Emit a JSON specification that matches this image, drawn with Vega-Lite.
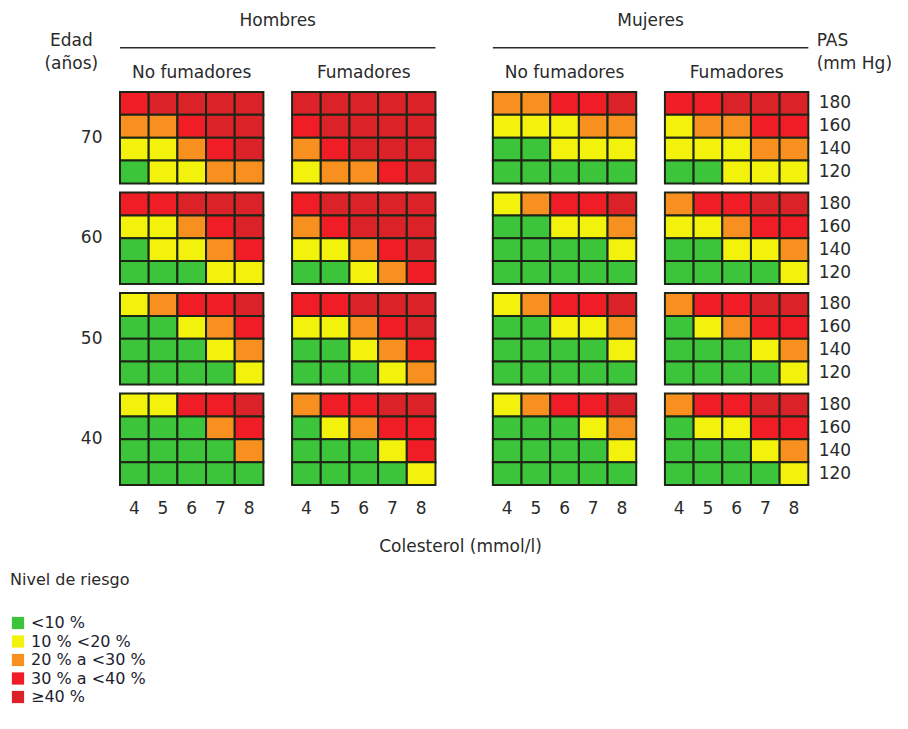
{
  "$schema": "https://vega.github.io/schema/vega-lite/v6.json",
  "width": 717,
  "height": 393,
  "autosize": {"type": "none"},
  "padding": {"left": 120, "top": 92, "right": 71, "bottom": 244},
  "background": "white",
  "config": {"font": "DejaVu Sans", "view": {"stroke": null}, "text": {"color": "#2a2a2a"}},
  "resolve": {"axis": {"x": "independent", "y": "independent"}},
  "data": {"values": [
{"edad":70,"celda":"HN4","pas":180,"nivel":4},{"edad":70,"celda":"HN5","pas":180,"nivel":5},{"edad":70,"celda":"HN6","pas":180,"nivel":5},{"edad":70,"celda":"HN7","pas":180,"nivel":5},{"edad":70,"celda":"HN8","pas":180,"nivel":5},
{"edad":70,"celda":"HN4","pas":160,"nivel":3},{"edad":70,"celda":"HN5","pas":160,"nivel":3},{"edad":70,"celda":"HN6","pas":160,"nivel":4},{"edad":70,"celda":"HN7","pas":160,"nivel":5},{"edad":70,"celda":"HN8","pas":160,"nivel":5},
{"edad":70,"celda":"HN4","pas":140,"nivel":2},{"edad":70,"celda":"HN5","pas":140,"nivel":2},{"edad":70,"celda":"HN6","pas":140,"nivel":3},{"edad":70,"celda":"HN7","pas":140,"nivel":4},{"edad":70,"celda":"HN8","pas":140,"nivel":5},
{"edad":70,"celda":"HN4","pas":120,"nivel":1},{"edad":70,"celda":"HN5","pas":120,"nivel":2},{"edad":70,"celda":"HN6","pas":120,"nivel":2},{"edad":70,"celda":"HN7","pas":120,"nivel":3},{"edad":70,"celda":"HN8","pas":120,"nivel":3},
{"edad":70,"celda":"HF4","pas":180,"nivel":5},{"edad":70,"celda":"HF5","pas":180,"nivel":5},{"edad":70,"celda":"HF6","pas":180,"nivel":5},{"edad":70,"celda":"HF7","pas":180,"nivel":5},{"edad":70,"celda":"HF8","pas":180,"nivel":5},
{"edad":70,"celda":"HF4","pas":160,"nivel":4},{"edad":70,"celda":"HF5","pas":160,"nivel":5},{"edad":70,"celda":"HF6","pas":160,"nivel":5},{"edad":70,"celda":"HF7","pas":160,"nivel":5},{"edad":70,"celda":"HF8","pas":160,"nivel":5},
{"edad":70,"celda":"HF4","pas":140,"nivel":3},{"edad":70,"celda":"HF5","pas":140,"nivel":4},{"edad":70,"celda":"HF6","pas":140,"nivel":5},{"edad":70,"celda":"HF7","pas":140,"nivel":5},{"edad":70,"celda":"HF8","pas":140,"nivel":5},
{"edad":70,"celda":"HF4","pas":120,"nivel":2},{"edad":70,"celda":"HF5","pas":120,"nivel":3},{"edad":70,"celda":"HF6","pas":120,"nivel":3},{"edad":70,"celda":"HF7","pas":120,"nivel":4},{"edad":70,"celda":"HF8","pas":120,"nivel":5},
{"edad":70,"celda":"MN4","pas":180,"nivel":3},{"edad":70,"celda":"MN5","pas":180,"nivel":3},{"edad":70,"celda":"MN6","pas":180,"nivel":4},{"edad":70,"celda":"MN7","pas":180,"nivel":4},{"edad":70,"celda":"MN8","pas":180,"nivel":5},
{"edad":70,"celda":"MN4","pas":160,"nivel":2},{"edad":70,"celda":"MN5","pas":160,"nivel":2},{"edad":70,"celda":"MN6","pas":160,"nivel":2},{"edad":70,"celda":"MN7","pas":160,"nivel":3},{"edad":70,"celda":"MN8","pas":160,"nivel":3},
{"edad":70,"celda":"MN4","pas":140,"nivel":1},{"edad":70,"celda":"MN5","pas":140,"nivel":1},{"edad":70,"celda":"MN6","pas":140,"nivel":2},{"edad":70,"celda":"MN7","pas":140,"nivel":2},{"edad":70,"celda":"MN8","pas":140,"nivel":2},
{"edad":70,"celda":"MN4","pas":120,"nivel":1},{"edad":70,"celda":"MN5","pas":120,"nivel":1},{"edad":70,"celda":"MN6","pas":120,"nivel":1},{"edad":70,"celda":"MN7","pas":120,"nivel":1},{"edad":70,"celda":"MN8","pas":120,"nivel":1},
{"edad":70,"celda":"MF4","pas":180,"nivel":4},{"edad":70,"celda":"MF5","pas":180,"nivel":4},{"edad":70,"celda":"MF6","pas":180,"nivel":5},{"edad":70,"celda":"MF7","pas":180,"nivel":5},{"edad":70,"celda":"MF8","pas":180,"nivel":5},
{"edad":70,"celda":"MF4","pas":160,"nivel":2},{"edad":70,"celda":"MF5","pas":160,"nivel":3},{"edad":70,"celda":"MF6","pas":160,"nivel":3},{"edad":70,"celda":"MF7","pas":160,"nivel":4},{"edad":70,"celda":"MF8","pas":160,"nivel":4},
{"edad":70,"celda":"MF4","pas":140,"nivel":2},{"edad":70,"celda":"MF5","pas":140,"nivel":2},{"edad":70,"celda":"MF6","pas":140,"nivel":2},{"edad":70,"celda":"MF7","pas":140,"nivel":3},{"edad":70,"celda":"MF8","pas":140,"nivel":3},
{"edad":70,"celda":"MF4","pas":120,"nivel":1},{"edad":70,"celda":"MF5","pas":120,"nivel":1},{"edad":70,"celda":"MF6","pas":120,"nivel":2},{"edad":70,"celda":"MF7","pas":120,"nivel":2},{"edad":70,"celda":"MF8","pas":120,"nivel":2},
{"edad":60,"celda":"HN4","pas":180,"nivel":4},{"edad":60,"celda":"HN5","pas":180,"nivel":4},{"edad":60,"celda":"HN6","pas":180,"nivel":5},{"edad":60,"celda":"HN7","pas":180,"nivel":5},{"edad":60,"celda":"HN8","pas":180,"nivel":5},
{"edad":60,"celda":"HN4","pas":160,"nivel":2},{"edad":60,"celda":"HN5","pas":160,"nivel":2},{"edad":60,"celda":"HN6","pas":160,"nivel":3},{"edad":60,"celda":"HN7","pas":160,"nivel":4},{"edad":60,"celda":"HN8","pas":160,"nivel":5},
{"edad":60,"celda":"HN4","pas":140,"nivel":1},{"edad":60,"celda":"HN5","pas":140,"nivel":2},{"edad":60,"celda":"HN6","pas":140,"nivel":2},{"edad":60,"celda":"HN7","pas":140,"nivel":3},{"edad":60,"celda":"HN8","pas":140,"nivel":4},
{"edad":60,"celda":"HN4","pas":120,"nivel":1},{"edad":60,"celda":"HN5","pas":120,"nivel":1},{"edad":60,"celda":"HN6","pas":120,"nivel":1},{"edad":60,"celda":"HN7","pas":120,"nivel":2},{"edad":60,"celda":"HN8","pas":120,"nivel":2},
{"edad":60,"celda":"HF4","pas":180,"nivel":4},{"edad":60,"celda":"HF5","pas":180,"nivel":5},{"edad":60,"celda":"HF6","pas":180,"nivel":5},{"edad":60,"celda":"HF7","pas":180,"nivel":5},{"edad":60,"celda":"HF8","pas":180,"nivel":5},
{"edad":60,"celda":"HF4","pas":160,"nivel":3},{"edad":60,"celda":"HF5","pas":160,"nivel":4},{"edad":60,"celda":"HF6","pas":160,"nivel":5},{"edad":60,"celda":"HF7","pas":160,"nivel":5},{"edad":60,"celda":"HF8","pas":160,"nivel":5},
{"edad":60,"celda":"HF4","pas":140,"nivel":2},{"edad":60,"celda":"HF5","pas":140,"nivel":2},{"edad":60,"celda":"HF6","pas":140,"nivel":3},{"edad":60,"celda":"HF7","pas":140,"nivel":4},{"edad":60,"celda":"HF8","pas":140,"nivel":5},
{"edad":60,"celda":"HF4","pas":120,"nivel":1},{"edad":60,"celda":"HF5","pas":120,"nivel":1},{"edad":60,"celda":"HF6","pas":120,"nivel":2},{"edad":60,"celda":"HF7","pas":120,"nivel":3},{"edad":60,"celda":"HF8","pas":120,"nivel":4},
{"edad":60,"celda":"MN4","pas":180,"nivel":2},{"edad":60,"celda":"MN5","pas":180,"nivel":3},{"edad":60,"celda":"MN6","pas":180,"nivel":4},{"edad":60,"celda":"MN7","pas":180,"nivel":4},{"edad":60,"celda":"MN8","pas":180,"nivel":5},
{"edad":60,"celda":"MN4","pas":160,"nivel":1},{"edad":60,"celda":"MN5","pas":160,"nivel":1},{"edad":60,"celda":"MN6","pas":160,"nivel":2},{"edad":60,"celda":"MN7","pas":160,"nivel":2},{"edad":60,"celda":"MN8","pas":160,"nivel":3},
{"edad":60,"celda":"MN4","pas":140,"nivel":1},{"edad":60,"celda":"MN5","pas":140,"nivel":1},{"edad":60,"celda":"MN6","pas":140,"nivel":1},{"edad":60,"celda":"MN7","pas":140,"nivel":1},{"edad":60,"celda":"MN8","pas":140,"nivel":2},
{"edad":60,"celda":"MN4","pas":120,"nivel":1},{"edad":60,"celda":"MN5","pas":120,"nivel":1},{"edad":60,"celda":"MN6","pas":120,"nivel":1},{"edad":60,"celda":"MN7","pas":120,"nivel":1},{"edad":60,"celda":"MN8","pas":120,"nivel":1},
{"edad":60,"celda":"MF4","pas":180,"nivel":3},{"edad":60,"celda":"MF5","pas":180,"nivel":4},{"edad":60,"celda":"MF6","pas":180,"nivel":4},{"edad":60,"celda":"MF7","pas":180,"nivel":5},{"edad":60,"celda":"MF8","pas":180,"nivel":5},
{"edad":60,"celda":"MF4","pas":160,"nivel":2},{"edad":60,"celda":"MF5","pas":160,"nivel":2},{"edad":60,"celda":"MF6","pas":160,"nivel":3},{"edad":60,"celda":"MF7","pas":160,"nivel":4},{"edad":60,"celda":"MF8","pas":160,"nivel":4},
{"edad":60,"celda":"MF4","pas":140,"nivel":1},{"edad":60,"celda":"MF5","pas":140,"nivel":1},{"edad":60,"celda":"MF6","pas":140,"nivel":2},{"edad":60,"celda":"MF7","pas":140,"nivel":2},{"edad":60,"celda":"MF8","pas":140,"nivel":3},
{"edad":60,"celda":"MF4","pas":120,"nivel":1},{"edad":60,"celda":"MF5","pas":120,"nivel":1},{"edad":60,"celda":"MF6","pas":120,"nivel":1},{"edad":60,"celda":"MF7","pas":120,"nivel":1},{"edad":60,"celda":"MF8","pas":120,"nivel":2},
{"edad":50,"celda":"HN4","pas":180,"nivel":2},{"edad":50,"celda":"HN5","pas":180,"nivel":3},{"edad":50,"celda":"HN6","pas":180,"nivel":4},{"edad":50,"celda":"HN7","pas":180,"nivel":4},{"edad":50,"celda":"HN8","pas":180,"nivel":5},
{"edad":50,"celda":"HN4","pas":160,"nivel":1},{"edad":50,"celda":"HN5","pas":160,"nivel":1},{"edad":50,"celda":"HN6","pas":160,"nivel":2},{"edad":50,"celda":"HN7","pas":160,"nivel":3},{"edad":50,"celda":"HN8","pas":160,"nivel":4},
{"edad":50,"celda":"HN4","pas":140,"nivel":1},{"edad":50,"celda":"HN5","pas":140,"nivel":1},{"edad":50,"celda":"HN6","pas":140,"nivel":1},{"edad":50,"celda":"HN7","pas":140,"nivel":2},{"edad":50,"celda":"HN8","pas":140,"nivel":3},
{"edad":50,"celda":"HN4","pas":120,"nivel":1},{"edad":50,"celda":"HN5","pas":120,"nivel":1},{"edad":50,"celda":"HN6","pas":120,"nivel":1},{"edad":50,"celda":"HN7","pas":120,"nivel":1},{"edad":50,"celda":"HN8","pas":120,"nivel":2},
{"edad":50,"celda":"HF4","pas":180,"nivel":4},{"edad":50,"celda":"HF5","pas":180,"nivel":4},{"edad":50,"celda":"HF6","pas":180,"nivel":5},{"edad":50,"celda":"HF7","pas":180,"nivel":5},{"edad":50,"celda":"HF8","pas":180,"nivel":5},
{"edad":50,"celda":"HF4","pas":160,"nivel":2},{"edad":50,"celda":"HF5","pas":160,"nivel":2},{"edad":50,"celda":"HF6","pas":160,"nivel":3},{"edad":50,"celda":"HF7","pas":160,"nivel":4},{"edad":50,"celda":"HF8","pas":160,"nivel":5},
{"edad":50,"celda":"HF4","pas":140,"nivel":1},{"edad":50,"celda":"HF5","pas":140,"nivel":1},{"edad":50,"celda":"HF6","pas":140,"nivel":2},{"edad":50,"celda":"HF7","pas":140,"nivel":3},{"edad":50,"celda":"HF8","pas":140,"nivel":4},
{"edad":50,"celda":"HF4","pas":120,"nivel":1},{"edad":50,"celda":"HF5","pas":120,"nivel":1},{"edad":50,"celda":"HF6","pas":120,"nivel":1},{"edad":50,"celda":"HF7","pas":120,"nivel":2},{"edad":50,"celda":"HF8","pas":120,"nivel":3},
{"edad":50,"celda":"MN4","pas":180,"nivel":2},{"edad":50,"celda":"MN5","pas":180,"nivel":3},{"edad":50,"celda":"MN6","pas":180,"nivel":4},{"edad":50,"celda":"MN7","pas":180,"nivel":4},{"edad":50,"celda":"MN8","pas":180,"nivel":5},
{"edad":50,"celda":"MN4","pas":160,"nivel":1},{"edad":50,"celda":"MN5","pas":160,"nivel":1},{"edad":50,"celda":"MN6","pas":160,"nivel":2},{"edad":50,"celda":"MN7","pas":160,"nivel":2},{"edad":50,"celda":"MN8","pas":160,"nivel":3},
{"edad":50,"celda":"MN4","pas":140,"nivel":1},{"edad":50,"celda":"MN5","pas":140,"nivel":1},{"edad":50,"celda":"MN6","pas":140,"nivel":1},{"edad":50,"celda":"MN7","pas":140,"nivel":1},{"edad":50,"celda":"MN8","pas":140,"nivel":2},
{"edad":50,"celda":"MN4","pas":120,"nivel":1},{"edad":50,"celda":"MN5","pas":120,"nivel":1},{"edad":50,"celda":"MN6","pas":120,"nivel":1},{"edad":50,"celda":"MN7","pas":120,"nivel":1},{"edad":50,"celda":"MN8","pas":120,"nivel":1},
{"edad":50,"celda":"MF4","pas":180,"nivel":3},{"edad":50,"celda":"MF5","pas":180,"nivel":4},{"edad":50,"celda":"MF6","pas":180,"nivel":4},{"edad":50,"celda":"MF7","pas":180,"nivel":5},{"edad":50,"celda":"MF8","pas":180,"nivel":5},
{"edad":50,"celda":"MF4","pas":160,"nivel":1},{"edad":50,"celda":"MF5","pas":160,"nivel":2},{"edad":50,"celda":"MF6","pas":160,"nivel":3},{"edad":50,"celda":"MF7","pas":160,"nivel":4},{"edad":50,"celda":"MF8","pas":160,"nivel":4},
{"edad":50,"celda":"MF4","pas":140,"nivel":1},{"edad":50,"celda":"MF5","pas":140,"nivel":1},{"edad":50,"celda":"MF6","pas":140,"nivel":1},{"edad":50,"celda":"MF7","pas":140,"nivel":2},{"edad":50,"celda":"MF8","pas":140,"nivel":3},
{"edad":50,"celda":"MF4","pas":120,"nivel":1},{"edad":50,"celda":"MF5","pas":120,"nivel":1},{"edad":50,"celda":"MF6","pas":120,"nivel":1},{"edad":50,"celda":"MF7","pas":120,"nivel":1},{"edad":50,"celda":"MF8","pas":120,"nivel":2},
{"edad":40,"celda":"HN4","pas":180,"nivel":2},{"edad":40,"celda":"HN5","pas":180,"nivel":2},{"edad":40,"celda":"HN6","pas":180,"nivel":4},{"edad":40,"celda":"HN7","pas":180,"nivel":4},{"edad":40,"celda":"HN8","pas":180,"nivel":5},
{"edad":40,"celda":"HN4","pas":160,"nivel":1},{"edad":40,"celda":"HN5","pas":160,"nivel":1},{"edad":40,"celda":"HN6","pas":160,"nivel":1},{"edad":40,"celda":"HN7","pas":160,"nivel":3},{"edad":40,"celda":"HN8","pas":160,"nivel":4},
{"edad":40,"celda":"HN4","pas":140,"nivel":1},{"edad":40,"celda":"HN5","pas":140,"nivel":1},{"edad":40,"celda":"HN6","pas":140,"nivel":1},{"edad":40,"celda":"HN7","pas":140,"nivel":1},{"edad":40,"celda":"HN8","pas":140,"nivel":3},
{"edad":40,"celda":"HN4","pas":120,"nivel":1},{"edad":40,"celda":"HN5","pas":120,"nivel":1},{"edad":40,"celda":"HN6","pas":120,"nivel":1},{"edad":40,"celda":"HN7","pas":120,"nivel":1},{"edad":40,"celda":"HN8","pas":120,"nivel":1},
{"edad":40,"celda":"HF4","pas":180,"nivel":3},{"edad":40,"celda":"HF5","pas":180,"nivel":4},{"edad":40,"celda":"HF6","pas":180,"nivel":4},{"edad":40,"celda":"HF7","pas":180,"nivel":5},{"edad":40,"celda":"HF8","pas":180,"nivel":5},
{"edad":40,"celda":"HF4","pas":160,"nivel":1},{"edad":40,"celda":"HF5","pas":160,"nivel":2},{"edad":40,"celda":"HF6","pas":160,"nivel":3},{"edad":40,"celda":"HF7","pas":160,"nivel":4},{"edad":40,"celda":"HF8","pas":160,"nivel":4},
{"edad":40,"celda":"HF4","pas":140,"nivel":1},{"edad":40,"celda":"HF5","pas":140,"nivel":1},{"edad":40,"celda":"HF6","pas":140,"nivel":1},{"edad":40,"celda":"HF7","pas":140,"nivel":2},{"edad":40,"celda":"HF8","pas":140,"nivel":4},
{"edad":40,"celda":"HF4","pas":120,"nivel":1},{"edad":40,"celda":"HF5","pas":120,"nivel":1},{"edad":40,"celda":"HF6","pas":120,"nivel":1},{"edad":40,"celda":"HF7","pas":120,"nivel":1},{"edad":40,"celda":"HF8","pas":120,"nivel":2},
{"edad":40,"celda":"MN4","pas":180,"nivel":2},{"edad":40,"celda":"MN5","pas":180,"nivel":3},{"edad":40,"celda":"MN6","pas":180,"nivel":4},{"edad":40,"celda":"MN7","pas":180,"nivel":4},{"edad":40,"celda":"MN8","pas":180,"nivel":5},
{"edad":40,"celda":"MN4","pas":160,"nivel":1},{"edad":40,"celda":"MN5","pas":160,"nivel":1},{"edad":40,"celda":"MN6","pas":160,"nivel":1},{"edad":40,"celda":"MN7","pas":160,"nivel":2},{"edad":40,"celda":"MN8","pas":160,"nivel":3},
{"edad":40,"celda":"MN4","pas":140,"nivel":1},{"edad":40,"celda":"MN5","pas":140,"nivel":1},{"edad":40,"celda":"MN6","pas":140,"nivel":1},{"edad":40,"celda":"MN7","pas":140,"nivel":1},{"edad":40,"celda":"MN8","pas":140,"nivel":2},
{"edad":40,"celda":"MN4","pas":120,"nivel":1},{"edad":40,"celda":"MN5","pas":120,"nivel":1},{"edad":40,"celda":"MN6","pas":120,"nivel":1},{"edad":40,"celda":"MN7","pas":120,"nivel":1},{"edad":40,"celda":"MN8","pas":120,"nivel":1},
{"edad":40,"celda":"MF4","pas":180,"nivel":3},{"edad":40,"celda":"MF5","pas":180,"nivel":4},{"edad":40,"celda":"MF6","pas":180,"nivel":4},{"edad":40,"celda":"MF7","pas":180,"nivel":5},{"edad":40,"celda":"MF8","pas":180,"nivel":5},
{"edad":40,"celda":"MF4","pas":160,"nivel":1},{"edad":40,"celda":"MF5","pas":160,"nivel":2},{"edad":40,"celda":"MF6","pas":160,"nivel":2},{"edad":40,"celda":"MF7","pas":160,"nivel":4},{"edad":40,"celda":"MF8","pas":160,"nivel":4},
{"edad":40,"celda":"MF4","pas":140,"nivel":1},{"edad":40,"celda":"MF5","pas":140,"nivel":1},{"edad":40,"celda":"MF6","pas":140,"nivel":1},{"edad":40,"celda":"MF7","pas":140,"nivel":2},{"edad":40,"celda":"MF8","pas":140,"nivel":3},
{"edad":40,"celda":"MF4","pas":120,"nivel":1},{"edad":40,"celda":"MF5","pas":120,"nivel":1},{"edad":40,"celda":"MF6","pas":120,"nivel":1},{"edad":40,"celda":"MF7","pas":120,"nivel":1},{"edad":40,"celda":"MF8","pas":120,"nivel":2}
  ]},
  "layer": [
    {
      "mark": {"type": "rect", "stroke": "#1d2616", "strokeWidth": 2},
      "encoding": {
        "x": {"field": "celda", "type": "nominal",
          "scale": {"domain": ["HN4","HN5","HN6","HN7","HN8","g1","HF4","HF5","HF6","HF7","HF8","g2","g2b","MN4","MN5","MN6","MN7","MN8","g3","MF4","MF5","MF6","MF7","MF8","PAS"], "paddingInner": 0, "paddingOuter": 0},
          "axis": {"orient": "bottom", "ticks": false, "domain": false, "labelAngle": 0, "labelFontSize": 17, "labelColor": "#2a2a2a", "labelPadding": 15,
            "labelExpr": "(indexof(datum.value,'g')==0 || datum.value=='PAS') ? '' : substring(datum.value,2)",
            "title": "Colesterol (mmol/l)", "titleFontSize": 17, "titleFontWeight": "normal", "titleColor": "#2a2a2a", "titlePadding": 22, "titleX": 340, "titleAnchor": "middle"}},
        "y": {"field": "edad", "type": "ordinal",
          "scale": {"domain": [70,60,50,40], "paddingInner": 0.09, "paddingOuter": 0},
          "axis": {"orient": "left", "ticks": false, "domain": false, "labelFontSize": 17, "labelColor": "#2a2a2a", "labelPadding": 18, "title": null}},
        "yOffset": {"field": "pas", "type": "ordinal", "scale": {"domain": [180,160,140,120], "paddingInner": 0, "paddingOuter": 0}},
        "color": {"field": "nivel", "type": "ordinal",
          "scale": {"domain": [1,2,3,4,5], "range": ["#3cc43a", "#f2f20c", "#f7901e", "#f01c26", "#da2228"]},
          "legend": {"orient": "none", "legendX": -110, "legendY": 480, "title": "Nivel de riesgo", "titleFontSize": 16, "titleFontWeight": "normal", "titleColor": "#2a2a2a", "titlePadding": 27,
            "symbolType": "square", "symbolSize": 150, "symbolStrokeWidth": 0, "symbolOpacity": 1, "labelFontSize": 16, "labelColor": "#1e1e30", "labelOffset": 5, "rowPadding": 2.5,
            "labelExpr": "datum.value == 1 ? '<10 %' : datum.value == 2 ? '10 % <20 %' : datum.value == 3 ? '20 % a <30 %' : datum.value == 4 ? '30 % a <40 %' : '≥40 %'"}}
      }
    },
    {
      "transform": [{"filter": {"field": "celda", "equal": "MF8"}}],
      "mark": {"type": "text", "fontSize": 17, "align": "left", "baseline": "middle", "dx": -4},
      "encoding": {
        "x": {"datum": "PAS", "type": "nominal", "axis": null},
        "y": {"field": "edad", "type": "ordinal", "axis": null},
        "yOffset": {"field": "pas", "type": "ordinal"},
        "text": {"field": "pas"}
      }
    },
    {
      "data": {"values": [{"texto": "Hombres", "celda": "g1"}, {"texto": "Mujeres", "celda": "g3"}]},
      "mark": {"type": "text", "fontSize": 17, "align": "center", "baseline": "middle", "dy": -117},
      "encoding": {
        "x": {"field": "celda", "type": "nominal", "axis": null},
        "y": {"datum": 70, "type": "ordinal", "axis": null},
        "text": {"field": "texto"}
      }
    },
    {
      "data": {"values": [{"desde": "HN4", "hasta": "HF8"}, {"desde": "MN4", "hasta": "MF8"}]},
      "mark": {"type": "rule", "color": "#2a2a2a", "strokeWidth": 1.5, "yOffset": -90},
      "encoding": {
        "x": {"field": "desde", "type": "nominal", "bandPosition": 0, "axis": null},
        "x2": {"field": "hasta", "bandPosition": 1},
        "y": {"datum": 70, "type": "ordinal", "axis": null}
      }
    },
    {
      "data": {"values": [{"texto": "No fumadores", "celda": "HN6"}, {"texto": "Fumadores", "celda": "HF6"}, {"texto": "No fumadores", "celda": "MN6"}, {"texto": "Fumadores", "celda": "MF6"}]},
      "mark": {"type": "text", "fontSize": 17, "align": "center", "baseline": "middle", "dy": -65},
      "encoding": {
        "x": {"field": "celda", "type": "nominal", "axis": null},
        "y": {"datum": 70, "type": "ordinal", "axis": null},
        "text": {"field": "texto"}
      }
    },
    {
      "data": {"values": [{"texto": "Edad\n(años)", "celda": "HN4"}]},
      "mark": {"type": "text", "fontSize": 17, "align": "center", "baseline": "top", "lineBreak": "\n", "lineHeight": 23, "dx": -63, "dy": -105},
      "encoding": {
        "x": {"field": "celda", "type": "nominal", "axis": null},
        "y": {"datum": 70, "type": "ordinal", "axis": null},
        "text": {"field": "texto"}
      }
    },
    {
      "data": {"values": [{"texto": "PAS\n(mm Hg)", "celda": "PAS"}]},
      "mark": {"type": "text", "fontSize": 17, "align": "left", "baseline": "top", "lineBreak": "\n", "lineHeight": 23, "dx": -6, "dy": -105},
      "encoding": {
        "x": {"field": "celda", "type": "nominal", "axis": null},
        "y": {"datum": 70, "type": "ordinal", "axis": null},
        "text": {"field": "texto"}
      }
    }
  ]
}
